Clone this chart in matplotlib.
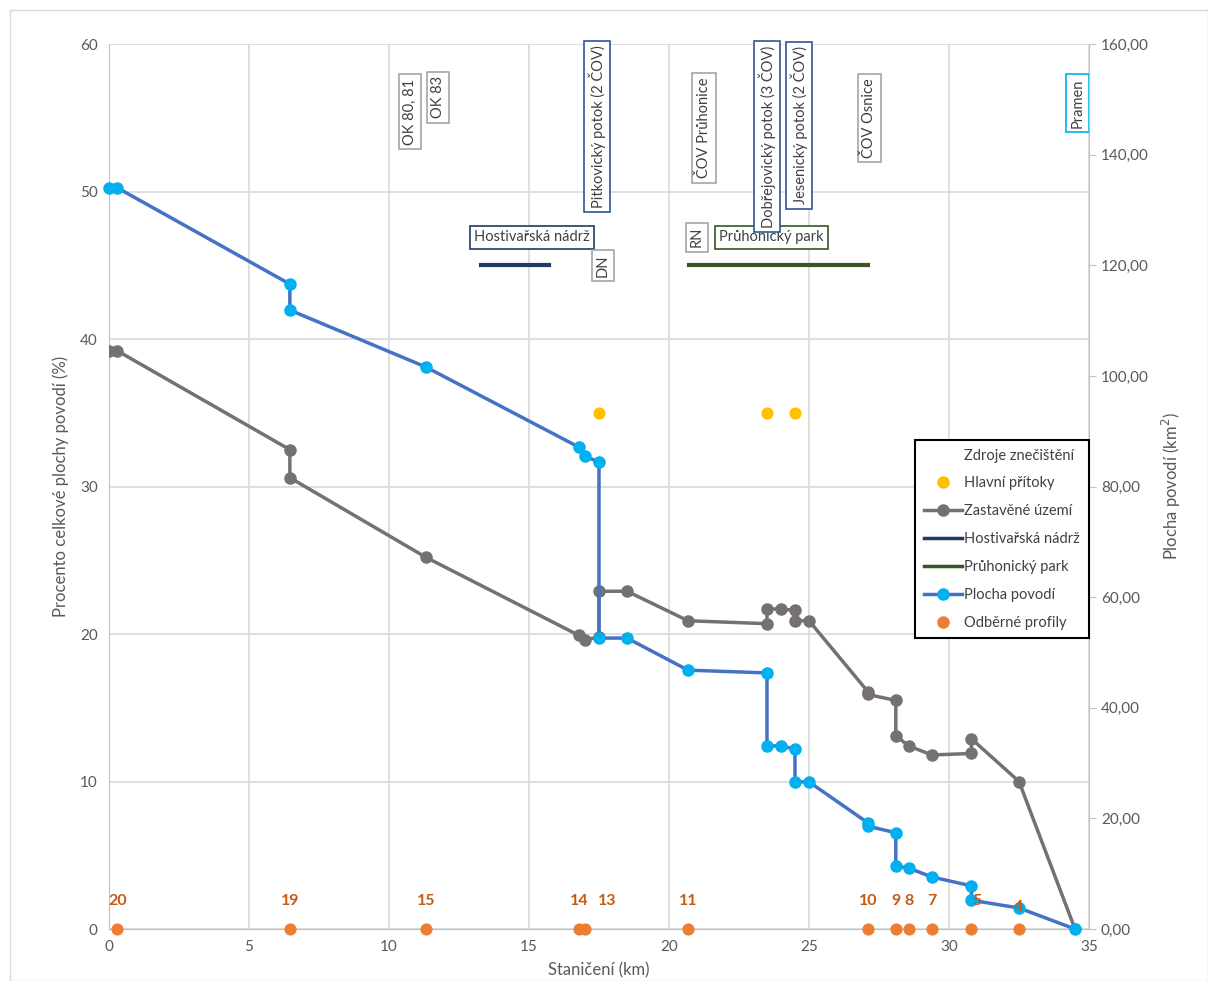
import numpy as np
import matplotlib
matplotlib.use("Agg")
import matplotlib.pyplot as plt
from matplotlib.lines import Line2D
from matplotlib.ticker import FuncFormatter

plt.rcParams["font.family"] = ["Lato", "DejaVu Sans"]

# staničení (km) a podíl zastavěného území (%)
zast_km = [0.0, 0.3, 6.46, 6.46, 11.32, 16.79, 17.0, 17.5, 17.5, 18.5, 20.68,
           23.5, 23.5, 24.0, 24.5, 24.5, 25.0, 27.1, 27.1, 28.1, 28.1, 28.57,
           29.39, 30.8, 30.8, 32.5, 34.5]
zast_pct = [39.2, 39.2, 32.5, 30.6, 25.2, 19.9, 19.6, 19.8, 22.9, 22.9, 20.9,
            20.7, 21.7, 21.7, 21.6, 20.9, 20.9, 16.1, 15.9, 15.5, 13.1, 12.4,
            11.8, 11.9, 12.9, 10.0, 0.0]

# plocha povodí (km2)
povodi_km = [0.0, 0.3, 6.46, 6.46, 11.32, 16.79, 17.0, 17.5, 17.5, 18.5, 20.68,
             23.5, 23.5, 24.0, 24.5, 24.5, 25.0, 27.1, 27.1, 28.1, 28.1, 28.57,
             29.39, 30.8, 30.8, 32.5, 34.5]
povodi_km2 = [134.0, 134.0, 116.6, 111.9, 101.6, 87.1, 85.5, 84.4, 52.6, 52.6,
              46.8, 46.3, 33.1, 33.1, 32.5, 26.6, 26.6, 19.2, 18.6, 17.4, 11.4,
              11.0, 9.4, 7.8, 5.2, 3.8, 0.0]

# hlavní přítoky
pritoky_km = [17.5, 23.5, 24.5]
pritoky_pct = [35, 35, 35]

# odběrné profily
profily_km = [0.3, 6.46, 11.32, 16.79, 17.0, 20.68, 27.1, 28.1, 28.57, 29.39, 30.8, 32.5]
profily_pct = [0] * 12
profily_cislo = ["20", "19", "15", "14", "13", "11", "10", "9", "8", "7", "5", "4"]

# úseky nádrže a parku
hostivar_km = [13.3, 15.7]
pruhonice_km = [20.7, 27.1]
useky_pct = [45, 45]

# popisky zdrojů znečištění
popisky = ["OK 80, 81", "OK 83", "Pitkovický potok (2 ČOV)", "DN", "ČOV Průhonice",
           "RN", "Dobřejovický potok (3 ČOV)", "Jesenický potok (2 ČOV)",
           "ČOV Osnice", "Pramen"]
popisky_km = [10.75, 11.75, 17.43, 17.64, 21.25, 21.0, 23.5, 24.65, 27.15, 34.6]

C_GRAY = "#767171"
C_BLUE = "#4472C4"
C_CYAN = "#00B0F0"
C_YEL = "#FFC000"
C_ORA = "#ED7D31"
C_NAVY = "#1F3864"
C_GREEN = "#375623"
C_TXT = "#595959"
C_GRID = "#D9D9D9"

fig = plt.figure(figsize=(12.08, 9.81), dpi=100)
fig.patches.append(plt.Rectangle((0.008, 0.0), 0.992, 0.99, transform=fig.transFigure,
                                 fill=False, ec="#D9D9D9", lw=1))
ax = fig.add_axes([0.0902, 0.053, 0.8113, 0.9021])
ax2 = ax.twinx()

ax.set_xlim(0, 35)
ax.set_ylim(0, 60)
ax2.set_ylim(0, 160)
ax.set_xticks(range(0, 36, 5))
ax.set_yticks(range(0, 61, 10))
ax2.set_yticks(range(0, 161, 20))
ax2.yaxis.set_major_formatter(FuncFormatter(lambda v, p: f"{v:.2f}".replace(".", ",")))

ax.grid(True, color=C_GRID, lw=1.2)
ax.set_axisbelow(True)
for a in (ax, ax2):
    for s in a.spines.values():
        s.set_visible(False)
ax.spines["left"].set_visible(True)
ax.spines["left"].set_color("#BFBFBF")
ax.spines["bottom"].set_visible(True)
ax.spines["bottom"].set_color("#BFBFBF")
ax2.spines["right"].set_visible(True)
ax2.spines["right"].set_color("#BFBFBF")

ax.tick_params(axis="both", length=0, labelsize=11, colors=C_TXT, pad=8)
ax2.tick_params(axis="y", length=5, color="#BFBFBF", labelsize=11, labelcolor=C_TXT)

ax.set_xlabel("Staničení (km)", fontsize=12, color=C_TXT, labelpad=6)
ax.set_ylabel("Procento celkové plochy povodí (%)", fontsize=12, color=C_TXT, labelpad=8)
ax2.set_ylabel("Plocha povodí (km$^2$)", fontsize=12, color=C_TXT, labelpad=8)

ax.plot(hostivar_km, useky_pct, color=C_NAVY, lw=3)
ax.plot(pruhonice_km, useky_pct, color=C_GREEN, lw=3)
ax.plot(zast_km, zast_pct, color=C_GRAY, lw=2.5, marker="o", ms=8, zorder=3)
ax.scatter(pritoky_km, pritoky_pct, color=C_YEL, s=60, zorder=4)
ax.scatter(profily_km, profily_pct, color=C_ORA, s=60, zorder=4, clip_on=False)
ax2.plot(povodi_km, povodi_km2, color=C_BLUE, lw=2.5, marker="o", ms=8,
         mfc=C_CYAN, mec=C_CYAN, zorder=3, clip_on=False)

# čísla odběrných profilů (nad modrou čárou)
for km, lab in zip(profily_km, profily_cislo):
    dx, y = 0, 1.4
    if lab == "13":
        dx = 0.8
    if lab == "5":
        dx = 0.2
    if lab == "4":
        y = 1.0
    ax2.text(km + dx, y, lab, transform=ax.transData, color="#C55A11", fontsize=11.5,
             fontweight="bold", ha="center", va="bottom", zorder=6)

# svislé popisky zdrojů
box_ec = {"OK 80, 81": "#A6A6A6", "OK 83": "#A6A6A6", "DN": "#A6A6A6",
          "ČOV Průhonice": "#A6A6A6", "RN": "#A6A6A6", "ČOV Osnice": "#A6A6A6",
          "Pramen": C_CYAN}
box_y = {"OK 80, 81": 55.4, "OK 83": 56.4, "Pitkovický potok (2 ČOV)": 54.4, "DN": 45.0,
         "ČOV Průhonice": 54.3, "RN": 46.9, "Dobřejovický potok (3 ČOV)": 53.7,
         "Jesenický potok (2 ČOV)": 54.5, "ČOV Osnice": 55.0, "Pramen": 56.0}
for lab, km in zip(popisky, popisky_km):
    ax.text(km, box_y[lab], lab, rotation=90, ha="center", va="center", fontsize=10.5,
            color="#404040", zorder=5,
            bbox=dict(boxstyle="square,pad=0.3", fc="white", ec=box_ec.get(lab, "#2F5597"), lw=1.2))

ax.text(15.1, 46.9, "Hostivařská nádrž", ha="center", va="center", fontsize=10.5,
        color="#404040", bbox=dict(boxstyle="square,pad=0.3", fc="white", ec=C_NAVY, lw=1.2))
ax.text(23.65, 46.9, "Průhonický park", ha="center", va="center", fontsize=10.5,
        color="#404040", bbox=dict(boxstyle="square,pad=0.3", fc="white", ec=C_GREEN, lw=1.2))

handles = [
    Line2D([], [], ls="none"),
    Line2D([], [], ls="none", marker="o", color=C_YEL, ms=8),
    Line2D([], [], color=C_GRAY, lw=2.5, marker="o", ms=8),
    Line2D([], [], color=C_NAVY, lw=2.5),
    Line2D([], [], color=C_GREEN, lw=2.5),
    Line2D([], [], color=C_BLUE, lw=2.5, marker="o", ms=8, mfc=C_CYAN, mec=C_CYAN),
    Line2D([], [], ls="none", marker="o", color=C_ORA, ms=8),
]
labels = ["Zdroje znečištění", "Hlavní přítoky", "Zastavěné území", "Hostivařská nádrž",
          "Průhonický park", "Plocha povodí", "Odběrné profily"]
leg = ax2.legend(handles, labels, loc="upper right", bbox_to_anchor=(1.007, 0.561),
                 fontsize=10.5, frameon=True, fancybox=False, framealpha=1,
                 edgecolor="black", handlelength=2.6, handletextpad=0.15,
                 labelspacing=0.95, borderpad=0.6, labelcolor="#404040")
leg.get_frame().set_linewidth(1.5)

fig.savefig("out.png", dpi=100)
